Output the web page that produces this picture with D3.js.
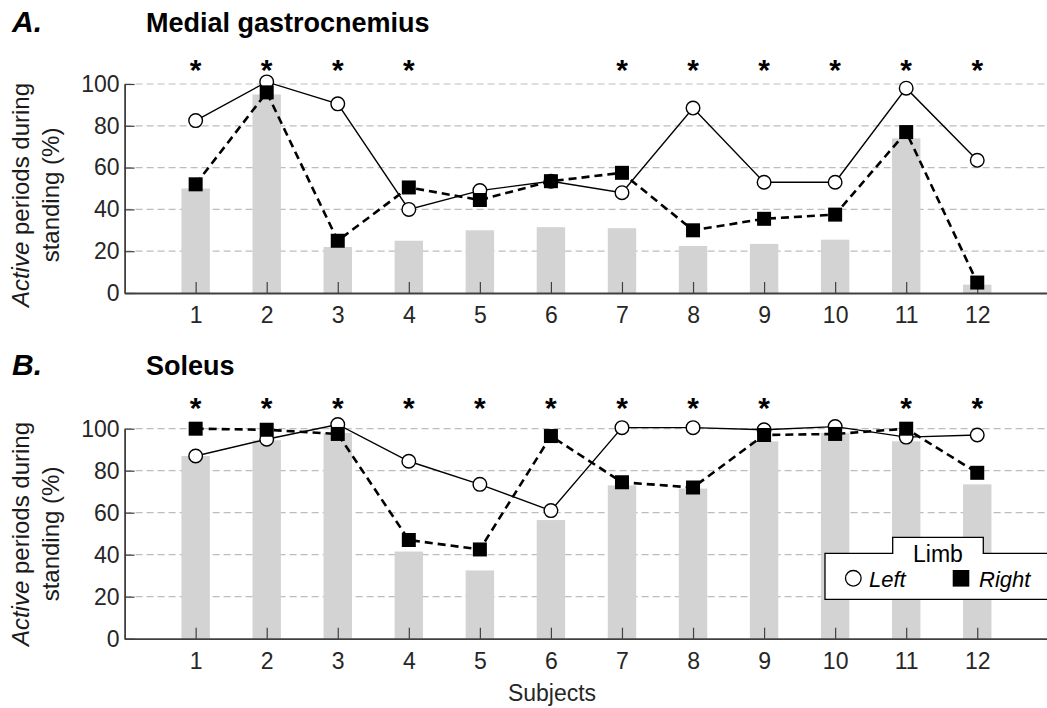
<!DOCTYPE html>
<html><head><meta charset="utf-8">
<script src="https://cdn.jsdelivr.net/npm/d3@7"></script>
<style>
html,body{margin:0;padding:0;background:#fff;overflow:hidden;}
svg{display:block;font-family:"Liberation Sans",Arial,sans-serif;}
</style></head>
<body>
<svg id="chart" width="1047" height="708"></svg>
<script>
// ---- data ----
const subjects = [1,2,3,4,5,6,7,8,9,10,11,12];
const yTicks = [0,20,40,60,80,100];
const mgBars  = [50,95,22,25,30,31.5,31,22.5,23.5,25.5,74,4];
const mgLeft  = [82.5,101,90.5,40,49,53.5,48,88.5,53,53,98,63.5];
const mgRight = [52,96,25,50.5,44.5,53.5,57.5,30,35.5,37.5,77,5];
const mgSig   = [1,1,1,1,0,0,1,1,1,1,1,1];
const solBars  = [87,94.5,98,41.5,32.5,56.5,73,71.5,94,98,94,73.5];
const solLeft  = [87,95,102,84.5,73.5,61,100.5,100.5,99.5,101,96,97];
const solRight = [100,99.5,97.5,47,42.5,96.5,74.5,72,97,97.5,100,79];
const solSig   = [1,1,1,1,1,1,1,1,1,0,1,1];
const legendTitle = "Limb";
const seriesNames = ["Left","Right"];

// ---- layout ----
const svg = d3.select("#chart");
const x = d3.scaleLinear().domain([0,13]).range([124.6,1048.3]);
const axisCol = "#404040";
const FONT = "Liberation Sans, Arial, sans-serif";

const panels = [
  {letter:"A.", title:"Medial gastrocnemius", top:84, bottom:293, bars:mgBars, left:mgLeft, right:mgRight, sig:mgSig,
   letterY:31.5, titleY:31.5, starY:80, labelCY:195},
  {letter:"B.", title:"Soleus", top:428.7, bottom:638.7, bars:solBars, left:solLeft, right:solRight, sig:solSig,
   letterY:375, titleY:375, starY:417.5, labelCY:534}
];

panels.forEach(p => {
  const y = d3.scaleLinear().domain([0,100]).range([p.bottom,p.top]);
  const g = svg.append("g");

  // gridlines
  g.selectAll("line.grid").data(yTicks.filter(d=>d>0)).join("line")
    .attr("x1", x(0)).attr("x2", 1047)
    .attr("y1", d=>y(d)).attr("y2", d=>y(d))
    .attr("stroke","#bdbdbd").attr("stroke-width",1.2).attr("stroke-dasharray","7,4");

  // bars
  const bw = (x(1)-x(0))*0.4;
  g.selectAll("rect.bar").data(p.bars).join("rect")
    .attr("x",(d,i)=>x(subjects[i])-bw/2).attr("width",bw)
    .attr("y",d=>y(d)).attr("height",d=>y(0)-y(d))
    .attr("fill","#d3d3d3");

  // axes
  const xAxis = d3.axisBottom(x).tickValues(subjects).tickSizeInner(-11).tickSizeOuter(0).tickPadding(13.5);
  const gx = g.append("g").attr("transform",`translate(0,${y(0)})`).call(xAxis);
  gx.select(".domain").attr("stroke",axisCol).attr("stroke-width",1.8);
  gx.selectAll(".tick line").attr("stroke",axisCol).attr("stroke-width",1.2);
  gx.selectAll(".tick text").attr("font-size",23).attr("fill","#262626").attr("font-family",FONT);

  const yAxis = d3.axisLeft(y).tickValues(yTicks).tickSizeInner(-10).tickSizeOuter(0).tickPadding(5);
  const gy = g.append("g").attr("transform",`translate(${x(0)},0)`).call(yAxis);
  gy.select(".domain").attr("stroke",axisCol).attr("stroke-width",1.8);
  gy.selectAll(".tick line").attr("stroke",axisCol).attr("stroke-width",1.2);
  gy.selectAll(".tick text").attr("font-size",23).attr("fill","#262626").attr("font-family",FONT);

  // lines
  const line = d3.line().x((d,i)=>x(subjects[i])).y(d=>y(d));
  g.append("path").datum(p.left).attr("d",line)
    .attr("fill","none").attr("stroke","#000").attr("stroke-width",1.4);
  g.selectAll("circle.left").data(p.left).join("circle")
    .attr("cx",(d,i)=>x(subjects[i])).attr("cy",d=>y(d)).attr("r",6.8)
    .attr("fill","#fff").attr("stroke","#000").attr("stroke-width",1.4);

  g.append("path").datum(p.right).attr("d",line)
    .attr("fill","none").attr("stroke","#000").attr("stroke-width",2.6).attr("stroke-dasharray","8,5");
  const sq = 14;
  g.selectAll("rect.right").data(p.right).join("rect")
    .attr("x",(d,i)=>x(subjects[i])-sq/2).attr("y",d=>y(d)-sq/2)
    .attr("width",sq).attr("height",sq).attr("fill","#000");

  // asterisks
  g.selectAll("text.star").data(subjects.filter((s,i)=>p.sig[i])).join("text")
    .attr("x",d=>x(d)).attr("y",p.starY).attr("text-anchor","middle")
    .attr("font-size",30).attr("font-weight","bold").text("*");

  // panel letter & title
  g.append("text").attr("x",12).attr("y",p.letterY).attr("font-size",30)
    .attr("font-weight","bold").attr("font-style","italic").text(p.letter);
  g.append("text").attr("x",146).attr("y",p.titleY).attr("font-size",27)
    .attr("font-weight","bold").text(p.title);

  // y label
  const yl = g.append("text").attr("transform",`translate(0,${p.labelCY}) rotate(-90)`)
    .attr("text-anchor","middle").attr("font-size",24).attr("fill","#1a1a1a");
  const t1 = yl.append("tspan").attr("x",0).attr("y",28.5);
  t1.append("tspan").attr("font-style","italic").text("Active");
  t1.append("tspan").text(" periods during");
  yl.append("tspan").attr("x",0).attr("y",58.5).text("standing (%)");
});

// x label
svg.append("text").attr("x",552).attr("y",701).attr("text-anchor","middle")
  .attr("font-size",23).attr("fill","#262626").text("Subjects");

// legend
const lg = svg.append("g");
lg.append("path")
  .attr("d","M825,553.3 H892.7 V537.3 H983.3 V553.3 H1049 V599.3 H825 Z")
  .attr("fill","#fff").attr("stroke","#000").attr("stroke-width",1.3);
lg.append("text").attr("x",938).attr("y",561.5).attr("text-anchor","middle")
  .attr("font-size",23).text(legendTitle);
lg.append("circle").attr("cx",853.3).attr("cy",578.3).attr("r",7.8)
  .attr("fill","#fff").attr("stroke","#000").attr("stroke-width",1.3);
lg.append("text").attr("x",869).attr("y",586.5).attr("font-size",22)
  .attr("font-style","italic").text(seriesNames[0]);
lg.append("rect").attr("x",952.7).attr("y",570).attr("width",16.6).attr("height",16.6).attr("fill","#000");
lg.append("text").attr("x",979).attr("y",586.5).attr("font-size",22)
  .attr("font-style","italic").text(seriesNames[1]);
</script>
</body></html>
